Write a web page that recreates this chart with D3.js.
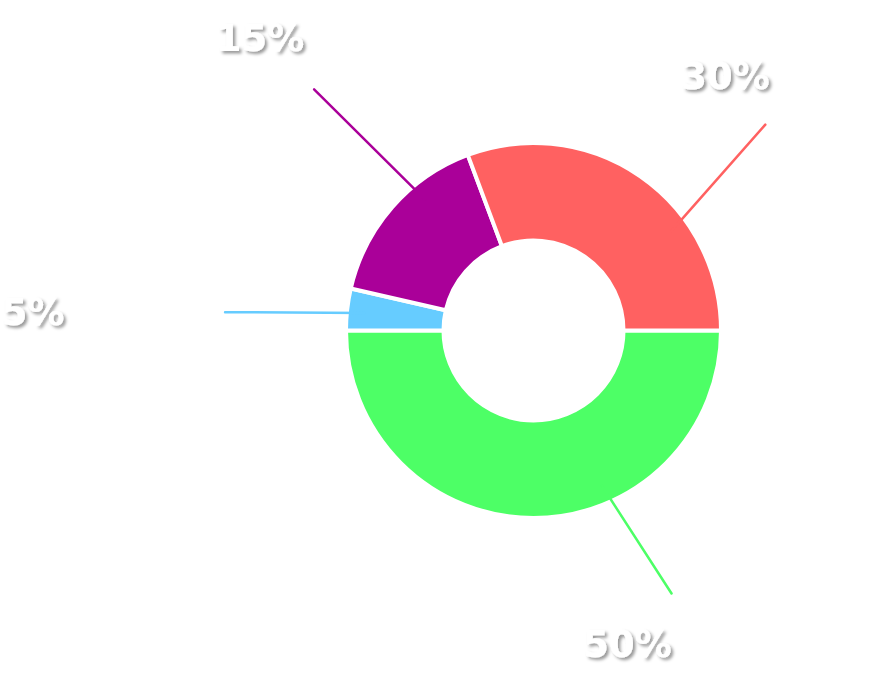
<!DOCTYPE html>
<html>
<head>
<meta charset="utf-8">
<script src="https://cdn.jsdelivr.net/npm/d3@7"></script>
<style>
  html, body { margin: 0; padding: 0; background: #ffffff; }
  svg { display: block; }
</style>
</head>
<body>
<svg id="chart" width="888" height="678"></svg>
<script>
// ---- data ----
const categories = ["Green", "Blue", "Purple", "Red"];
const values = [50, 3.6, 15.7, 30.7];
const labels = ["50%", "5%", "15%", "30%"];
const colors = ["#4dff66", "#66ccff", "#aa0099", "#ff6161"];

// ---- layout (annotation placement, degrees clockwise from top / radius px) ----
const leaderLayout = [
  { a1: 156.2, r1: 170, a2: 152.3, r2: 297 },
  { a1: 275.9, r1: 170, a2: 273.4, r2: 309 },
  { a1: -39.6, r1: 170, a2: -42.3, r2: 326 },
  { a1: 54.2,  r1: 170, a2: 48.4,  r2: 310 }
];
const labelLayout = [
  { a: 163.3, r: 327 },
  { a: 272.15, r: 500.6 },
  { a: -43.1, r: 400.4 },
  { a: 37.0, r: 319.2 }
];

const cx = 533.5, cy = 330.5;
const innerR = 90, outerR = 187.5;
const rad = d => d * Math.PI / 180;

const svg = d3.select("#chart");
const defs = svg.append("defs");
const f = defs.append("filter").attr("id", "shadow")
  .attr("x", "-20%").attr("y", "-20%").attr("width", "140%").attr("height", "160%");
f.append("feDropShadow").attr("dx", 2.5).attr("dy", 2.5).attr("stdDeviation", 1.5)
  .attr("flood-color", "#000").attr("flood-opacity", 0.4);

const g = svg.append("g").attr("transform", `translate(${cx},${cy})`);

const pie = d3.pie().sort(null).value(d => d)
  .startAngle(Math.PI / 2).endAngle(Math.PI / 2 + 2 * Math.PI);
const arcs = pie(values);
const arc = d3.arc().innerRadius(innerR).outerRadius(outerR);

// slices
g.selectAll("path.slice").data(arcs).join("path")
  .attr("class", "slice")
  .attr("d", arc)
  .attr("fill", (d, i) => colors[i])
  .attr("stroke", "#ffffff")
  .attr("stroke-width", 4)
  .attr("stroke-linejoin", "miter");

// leader lines
g.selectAll("line.leader").data(arcs).join("line")
  .attr("class", "leader")
  .each(function (d, i) {
    const L = leaderLayout[i];
    const p1 = d3.pointRadial(rad(L.a1), L.r1);
    const p2 = d3.pointRadial(rad(L.a2), L.r2);
    d3.select(this).attr("x1", p1[0]).attr("y1", p1[1]).attr("x2", p2[0]).attr("y2", p2[1]);
  })
  .attr("stroke", (d, i) => colors[i])
  .attr("stroke-width", 2.5)
  .attr("stroke-linecap", "round");

// labels
g.selectAll("text.lbl").data(arcs).join("text")
  .attr("class", "lbl")
  .attr("x", (d, i) => d3.pointRadial(rad(labelLayout[i].a), labelLayout[i].r)[0])
  .attr("y", (d, i) => d3.pointRadial(rad(labelLayout[i].a), labelLayout[i].r)[1])
  .attr("dy", "0.36em")
  .attr("text-anchor", "middle")
  .attr("font-family", "DejaVu Sans, sans-serif")
  .attr("font-weight", "bold")
  .attr("font-size", 37)
  .attr("fill", "#ffffff")
  .attr("filter", "url(#shadow)")
  .text((d, i) => labels[i]);
</script>
</body>
</html>
